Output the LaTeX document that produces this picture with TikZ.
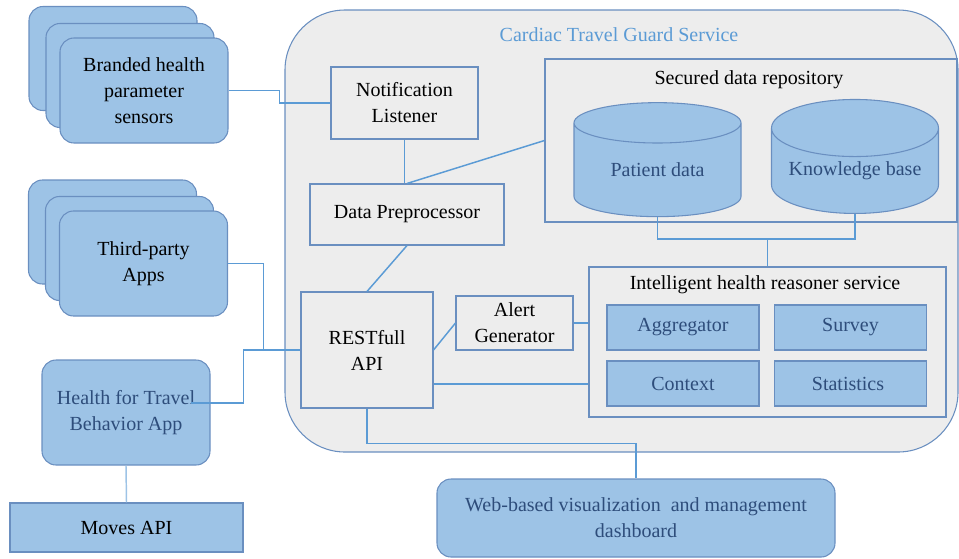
\documentclass[tikz,border=0pt]{standalone}
\usepackage{fontspec}
\setmainfont{Liberation Serif}
\usepackage{tikz}
\usetikzlibrary{
  positioning,
  shapes.geometric,
  calc
}
\newlength\unitpx
\setlength\unitpx{0.75pt}
\definecolor{boxblue}{HTML}{9DC3E6}
\definecolor{edgeblue}{HTML}{6A8FC0}
\definecolor{wireblue}{HTML}{5B9BD5}
\definecolor{textblue}{HTML}{2E4D7B}
\definecolor{panelgray}{HTML}{EDEDED}
\tikzset{
  stackbox/.style = {
    draw=edgeblue, fill=boxblue, line width=0.8pt,
    rounded corners=14\unitpx, align=center,
    minimum width=168\unitpx, minimum height=104\unitpx
  },
  graybox/.style = {
    draw=edgeblue, fill=panelgray, line width=0.8pt, align=center
  },
  bluebox/.style = {
    draw=edgeblue, fill=boxblue, line width=0.8pt,
    text=textblue, align=center
  },
  store/.style = {
    cylinder, shape border rotate=90, aspect=0.43,
    draw=edgeblue, fill=boxblue, line width=0.8pt, text=textblue,
    minimum width=167\unitpx, minimum height=114\unitpx
  },
  wire/.style = {draw=wireblue, line width=1.1pt}
}

\begin{document}
\begin{tikzpicture}[
    x=0.75pt, y=-0.75pt,
    every node/.style={
        font=\fontsize{15}{19.5}\selectfont,
        inner sep=0pt
    }
]
    \useasboundingbox (0,0) rectangle (959,558);

    % Service container
    \node[graybox, rounded corners=60\unitpx,
          minimum width=673\unitpx, minimum height=442\unitpx]
        (service) at (621.5,231) {};
    \node[text=wireblue] (servicetitle) at (619,35) {Cardiac Travel Guard Service};

    % Stacked sources on the left
    \node[stackbox] (sensA) at (113,58.5) {};
    \node[stackbox] (sensB) at (130,75.5) {};
    \node[stackbox, minimum height=105\unitpx] (sens) at (144,90.5)
        {Branded health\\parameter\\sensors};

    \node[stackbox] (appsA) at (112.5,232) {};
    \node[stackbox] (appsB) at (129.5,248.5) {};
    \node[stackbox, minimum height=105\unitpx] (apps) at (143.5,263.5)
        {Third-party\\Apps};

    \node[stackbox, text=textblue, minimum height=105\unitpx] (hft) at (126,412.5)
        {Health for Travel\\Behavior App};
    \node[bluebox, text=black, minimum width=233\unitpx, minimum height=49\unitpx]
        (moves) at (126.5,527.5) {Moves API};

    % Inner components
    \node[graybox, minimum width=147\unitpx, minimum height=72\unitpx]
        (notif) at (404.5,103) {Notification\\Listener};
    \node[graybox, minimum width=194\unitpx, minimum height=61\unitpx]
        (prep) at (407,214.5) {Data Preprocessor};
    \node[graybox, minimum width=132\unitpx, minimum height=116\unitpx]
        (rest) at (367,350) {RESTfull\\API};
    \node[graybox, minimum width=117\unitpx, minimum height=54\unitpx]
        (alert) at (514.5,323) {Alert\\Generator};

    % Secured data repository
    \node[graybox, minimum width=412\unitpx, minimum height=163\unitpx]
        (repo) at (751,140.5) {};
    \node (repotitle) at (749,80) {Secured data repository};
    \node[store] (patient) at (657.5,170) {Patient data};
    \node[store] (knowledge) at (855,171) {Knowledge base};

    % Intelligent health reasoner service
    \node[graybox, minimum width=357\unitpx, minimum height=150\unitpx]
        (reasoner) at (767.5,342) {};
    \node (reasonertitle) at (765,285) {Intelligent health reasoner service};
    \foreach \nx/\ny/\name/\label in {
        683/327.5/aggr/Aggregator,
        850.5/327.5/survey/Survey,
        683/383.5/context/Context,
        850.5/383.5/stats/Statistics
    } {
        \node[bluebox, minimum width=152\unitpx, minimum height=45\unitpx]
            (\name) at (\nx,\ny) {\label};
    }

    % Dashboard
    \node[stackbox, text=textblue, minimum width=398\unitpx, minimum height=78\unitpx]
        (web) at (636,518) {Web-based visualization\enspace and management\\dashboard};

    % Connections
    \draw[wire] (sens.east) -- ++(51,0) |- (notif.west);
    \draw[wire] (notif.south) -- (notif.south |- prep.north);
    \draw[wire] (prep.north) -- (repo.west);
    \draw[wire] (prep.south) -- (rest.north);
    \draw[wire] (rest.east) -- (alert.west);
    \draw[wire] (alert.east) -- (alert.east -| reasoner.west);
    \coordinate (restlow) at ([yshift=-34\unitpx]rest.east);
    \draw[wire] (restlow) -- (restlow -| reasoner.west);
    \draw[wire] (rest.south) -- ++(0,35) -| (web.north);
    \draw[wire] (patient.south) -- (patient.south |- 0,239) -| (knowledge.south);
    \draw[wire] (reasoner.north) -- ++(0,-28);

    % Apps feeding the API
    \coordinate (tap) at ($(rest.west)+(-57,0)$);
    \coordinate (hftlink) at ([xshift=-20\unitpx,yshift=9.5\unitpx]hft.east);
    \draw[wire] (apps.east) -| ($(rest.west)+(-37,0)$);
    \draw[wire] (hftlink) -| (tap) -- (rest.west);
    \draw[draw=boxblue, line width=1.1pt] (hft.south) -- (moves.north);

\end{tikzpicture}
\end{document}
